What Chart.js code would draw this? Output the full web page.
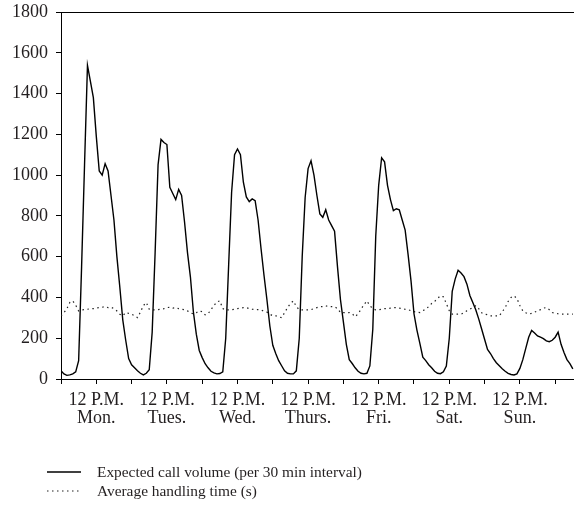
<!DOCTYPE html>
<html lang="en">

<head>
    <meta charset="UTF-8">
    <title>Call volume and handling time</title>
    <style>
        body { margin: 0; background: #fff; }
        .chartBox { position: relative; width: 574px; height: 512px; }
        .legendBox { position: absolute; left: 47px; top: 462px; font-family: "Liberation Serif", serif; font-size: 15.4px; color: #231f20; }
        .legendRow { display: flex; align-items: center; height: 19px; }
        .legendRow svg { width: 34px; height: 4px; margin-right: 16px; }
    </style>
</head>

<body>
    <div class="chartBox">
        <canvas id="callChart"></canvas>
        <div class="legendBox">
            <div class="legendRow">
                <svg><line x1="0" y1="2" x2="34" y2="2" stroke="#000" stroke-width="1.3" /></svg>
                <span id="labelVolume"></span>
            </div>
            <div class="legendRow">
                <svg><line x1="0" y1="2" x2="34" y2="2" stroke="#222" stroke-width="1.2" stroke-dasharray="1.5 3.5" /></svg>
                <span id="labelHandling"></span>
            </div>
        </div>
    </div>
</body>
<script src="https://cdn.jsdelivr.net/npm/chart.js"></script>
<script>
    // one value per hour, starting Monday 00:00
    const days = ["Mon.", "Tues.", "Wed.", "Thurs.", "Fri.", "Sat.", "Sun."];
    const noonLabel = "12 P.M.";
    const seriesNames = ["Expected call volume (per 30 min interval)", "Average handling time (s)"];
    const yTicks = [0, 200, 400, 600, 800, 1000, 1200, 1400, 1600, 1800];

    const callVolume = [
        40, 25, 18, 20, 25, 35, 90, 550, 1050, 1538, 1460, 1380, 1190, 1020, 1000, 1056, 1020, 900, 780, 600, 450, 290, 190, 100,
        70, 55, 40, 28, 20, 28, 45, 230, 620, 1050, 1175, 1160, 1150, 940, 910, 880, 930, 900, 770, 620, 500, 330, 220, 140,
        105, 75, 55, 38, 30, 25, 27, 35, 200, 560, 916, 1100, 1128, 1100, 965, 893, 870, 883, 875, 780, 640, 510, 390, 260,
        165, 125, 90, 65, 40, 28, 25, 25, 40, 200, 600, 890, 1032, 1070, 1000, 900, 810, 793, 830, 780, 752, 725, 550, 390,
        280, 170, 95, 76, 55, 38, 28, 25, 28, 64, 244, 700, 950, 1085, 1065, 950, 880, 826, 835, 830, 780, 730, 610, 480,
        320, 240, 175, 107, 90, 70, 55, 38, 28, 26, 35, 64, 200, 430, 490, 533, 520, 502, 465, 410, 375, 340, 295, 245,
        195, 145, 125, 100, 80, 65, 50, 38, 28, 22, 20, 25, 52, 95, 150, 205, 238, 226, 211, 205, 198, 187, 183, 190,
        205, 230, 170, 130, 95, 75, 50
    ];

    const handlingTime = [
        310, 325, 345, 375, 383, 362, 334, 339, 340, 342, 345, 345, 348, 350, 352, 355, 350, 352, 345, 334, 318, 310, 326, 322,
        318, 310, 301, 328, 360, 375, 342, 339, 339, 340, 342, 345, 350, 352, 348, 350, 345, 342, 340, 334, 325, 319, 325, 334,
        330, 315, 320, 340, 360, 378, 383, 345, 339, 339, 340, 342, 345, 348, 350, 350, 345, 342, 340, 340, 339, 332, 328, 318,
        310, 310, 305, 301, 325, 350, 370, 383, 355, 340, 339, 339, 339, 340, 345, 350, 355, 355, 359, 355, 355, 355, 345, 326,
        326, 326, 326, 320, 305, 320, 342, 365, 383, 360, 345, 339, 340, 342, 345, 345, 348, 350, 350, 348, 345, 342, 340, 335,
        330, 328, 326, 335, 342, 355, 370, 380, 395, 408, 403, 370, 335, 318, 318, 318, 318, 325, 335, 342, 350, 359, 345, 325,
        318, 315, 310, 310, 310, 310, 330, 350, 380, 400, 408, 395, 360, 334, 325, 318, 322, 328, 334, 340, 348, 350, 340, 326,
        322, 320, 318, 318, 318, 318, 318
    ];

    document.getElementById("labelVolume").textContent = seriesNames[0];
    document.getElementById("labelHandling").textContent = seriesNames[1];

    const toPoints = arr => arr.map((v, i) => ({ x: i, y: v }));
    const serif = "'Liberation Serif', 'DejaVu Serif', serif";
    const textColor = "#231f20";

    const ctx = document.getElementById('callChart').getContext('2d');
    const callChart = new Chart(ctx, {
        type: 'line',
        data: {
            datasets: [{
                label: seriesNames[0],
                data: toPoints(callVolume),
                borderColor: '#000',
                borderWidth: 1.4,
                pointRadius: 0,
                tension: 0
            }, {
                label: seriesNames[1],
                data: toPoints(handlingTime),
                borderColor: '#222',
                borderWidth: 1.2,
                borderDash: [1.5, 3.5],
                pointRadius: 0,
                tension: 0
            }]
        },
        options: {
            responsive: true,
            maintainAspectRatio: false,
            animation: false,
            layout: { padding: { top: 12, right: 0, bottom: 78, left: 0 } },
            plugins: {
                legend: { display: false },
                tooltip: { enabled: false }
            },
            scales: {
                x: {
                    type: 'linear',
                    min: 0,
                    max: 174.4,
                    border: { color: '#000', width: 1 },
                    grid: { drawOnChartArea: false, tickLength: 5, tickColor: '#000' },
                    ticks: {
                        stepSize: 12,
                        includeBounds: false,
                        autoSkip: false,
                        maxRotation: 0,
                        padding: 7,
                        color: textColor,
                        font: { family: serif, size: 18, lineHeight: 1.0 },
                        callback: value => value % 24 === 12 ? [noonLabel, days[(value - 12) / 24]] : ''
                    }
                },
                y: {
                    min: yTicks[0],
                    max: yTicks[yTicks.length - 1],
                    border: { color: '#000', width: 1 },
                    grid: {
                        tickLength: 5,
                        tickColor: '#000',
                        color: c => c.tick && c.tick.value === yTicks[yTicks.length - 1] ? '#000' : 'rgba(0,0,0,0)'
                    },
                    afterFit: scale => {
                        scale.width = 61;
                        scale.paddingTop = 0;
                        scale.paddingBottom = 0;
                    },
                    ticks: {
                        stepSize: 200,
                        padding: 8,
                        color: textColor,
                        font: { family: serif, size: 18 },
                        callback: value => String(value)
                    }
                }
            }
        }
    });
</script>

</html>
